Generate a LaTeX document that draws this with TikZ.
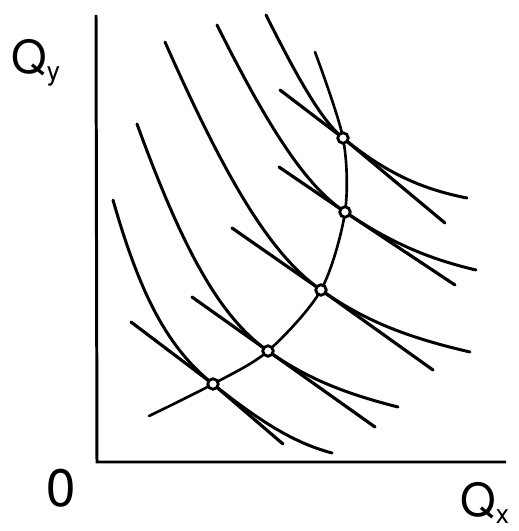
\documentclass[tikz,border=0pt]{standalone}
\usepackage{fontspec}
\setmainfont{TeX Gyre Heros}
\usetikzlibrary{positioning,calc}
\tikzset{
  icurve/.style={line width=1.7pt, line cap=round},
  tline/.style={line width=1.8pt, line cap=round},
  epath/.style={line width=1.5pt, line cap=round},
  axis/.style={line width=1.7pt},
  eqpt/.style={circle, draw, fill=white, line width=1.6pt, inner sep=0pt, minimum size=0.21cm},
  axlbl/.style={font=\fontsize{26}{30}\selectfont, inner sep=0pt},
}
\newcommand{\qsub}[1]{Q\raisebox{-4.5pt}{\fontsize{15}{15}\selectfont #1}}

\begin{document}
\begin{tikzpicture}[x=0.02cm, y=-0.02cm]
  \useasboundingbox (0,0) rectangle (518,531);
  % axes
  \coordinate (o) at (97,462);
  \coordinate (ytop) at (96,15);
  \coordinate (xend) at (506,462);
  \draw[axis] (ytop) -- (o) -- (xend);
  \node[axlbl, anchor=base west] (qy) at (11,73) {\qsub{y}};
  \node[axlbl, anchor=base west] (qx) at (460,516) {\qsub{x}};
  \node[font=\fontsize{30}{34}\selectfont, inner sep=0pt] (zero) at (61,488) {0};
  % tangency points
  \coordinate (p1) at (213,384);
  \coordinate (p2) at (268,351);
  \coordinate (p3) at (321,290);
  \coordinate (p4) at (345,212);
  \coordinate (p5) at (343,138);
  \coordinate (e0) at (149,416);
  \coordinate (e6) at (315,52);
  % indifference curves: start, left corner, right corner, end
  \foreach \i/\sx/\sy/\lx/\ly/\rx/\ry/\ex/\ey in {
      1/113/200/151.5/335/283/440/332/453,
      2/137/124/203/305/319/387/398/407,
      3/165/42/254/243/379/331/470/352,
      4/217/25/293/177/408/254/476/270,
      5/266/15/317/117/401/185/467/198}
    \draw[icurve] (\sx,\sy) .. controls ($(\sx,\sy)!.72!(\lx,\ly)$) and ($(p\i)!.72!(\lx,\ly)$) .. (p\i)
      .. controls ($(p\i)!.72!(\rx,\ry)$) and ($(\ex,\ey)!.72!(\rx,\ry)$) .. (\ex,\ey);
  % tangent lines
  \foreach \i/\sx/\sy/\ex/\ey in {
      1/131/322/283/444,
      2/192/297/375/427,
      3/232/228/433/370,
      4/279/167/455/285,
      5/280/90/445/223}
    \draw[tline] (\sx,\sy) -- (p\i) -- (\ex,\ey);
  % expansion path
  \draw[epath] plot[smooth, tension=0.5] coordinates {(e0) (p1) (p2) (p3) (p4) (p5) (e6)};
  \foreach \i in {1,...,5}
    \node[eqpt] (dot\i) at (p\i) {};
\end{tikzpicture}
\end{document}
